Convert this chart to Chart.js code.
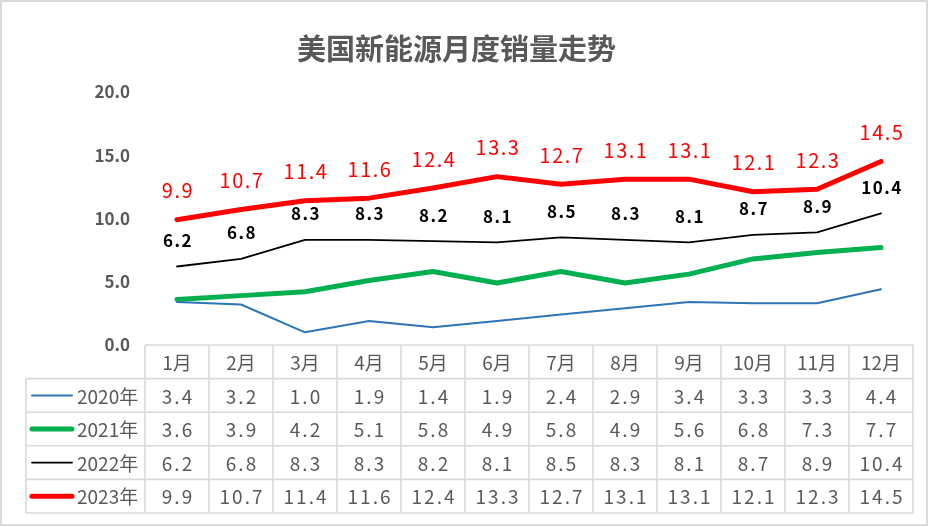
<!DOCTYPE html>
<html lang="zh-CN">
<head>
<meta charset="utf-8">
<title>美国新能源月度销量走势</title>
<script src="https://cdn.jsdelivr.net/npm/chart.js@4.4.1/dist/chart.umd.min.js"></script>
<style>
  html, body { margin: 0; padding: 0; background: #fff; }
  #chart { display: block; }
</style>
</head>
<body>
<canvas id="chart" width="930" height="527"></canvas>
<script>
// 数据
const months = ["1月", "2月", "3月", "4月", "5月", "6月", "7月", "8月", "9月", "10月", "11月", "12月"];
const seriesNames = ["2020年", "2021年", "2022年", "2023年"];
const sales2020 = [3.4, 3.2, 1.0, 1.9, 1.4, 1.9, 2.4, 2.9, 3.4, 3.3, 3.3, 4.4];
const sales2021 = [3.6, 3.9, 4.2, 5.1, 5.8, 4.9, 5.8, 4.9, 5.6, 6.8, 7.3, 7.7];
const sales2022 = [6.2, 6.8, 8.3, 8.3, 8.2, 8.1, 8.5, 8.3, 8.1, 8.7, 8.9, 10.4];
const sales2023 = [9.9, 10.7, 11.4, 11.6, 12.4, 13.3, 12.7, 13.1, 13.1, 12.1, 12.3, 14.5];
const yMin = 0;
const yMax = 20;
const yStep = 5;

const FONT = "'Noto Sans CJK SC', 'Noto Sans', sans-serif";
const GREY = "#595959";
const GRID = "#d9d9d9";

// 背景和外框
const frame = {
    id: "frame",
    beforeDraw(chart) {
        const ctx = chart.ctx;
        ctx.save();
        ctx.fillStyle = "#fff";
        ctx.fillRect(0, 0, chart.width, chart.height);
        ctx.strokeStyle = GRID;
        ctx.lineWidth = 2;
        ctx.strokeRect(1, 1, chart.width - 4, chart.height - 3);
        ctx.restore();
    }
};

// 折线上的数据标签
const pointLabels = {
    id: "pointLabels",
    afterDatasetsDraw(chart) {
        const ctx = chart.ctx;
        chart.data.datasets.forEach((ds, i) => {
            if (!ds.labelColor) return;
            const meta = chart.getDatasetMeta(i);
            ctx.save();
            ctx.fillStyle = ds.labelColor;
            ctx.font = ds.labelFont;
            ctx.textAlign = "center";
            ctx.textBaseline = "middle";
            ctx.letterSpacing = "1.5px";
            meta.data.forEach((pt, j) => {
                ctx.fillText(ds.data[j].toFixed(1), pt.x + 1, pt.y - ds.labelOffset);
            });
            ctx.restore();
        });
    }
};

// 底部数据表
const dataTable = {
    id: "dataTable",
    afterDraw(chart) {
        const ctx = chart.ctx;
        const area = chart.chartArea;
        const x = chart.scales.x;
        const colW = (area.right - area.left) / months.length;
        const rowH = 33.6;
        const top = area.bottom;
        const legendLeft = 26;
        const bottom = top + rowH * (seriesNames.length + 1);

        ctx.save();
        ctx.strokeStyle = GRID;
        ctx.lineWidth = 1.6;

        // 横线
        ctx.beginPath();
        ctx.moveTo(area.left, top);
        ctx.lineTo(area.right, top);
        for (let r = 1; r <= seriesNames.length + 1; r++) {
            const y = top + rowH * r;
            ctx.moveTo(legendLeft, y);
            ctx.lineTo(area.right, y);
        }
        // 竖线
        for (let c = 0; c <= months.length; c++) {
            const cx = area.left + colW * c;
            ctx.moveTo(cx, top);
            ctx.lineTo(cx, bottom);
        }
        ctx.moveTo(legendLeft, top + rowH);
        ctx.lineTo(legendLeft, bottom);
        ctx.stroke();

        ctx.fillStyle = GREY;
        ctx.textBaseline = "middle";
        ctx.textAlign = "center";
        ctx.font = "19px " + FONT;
        months.forEach((m, j) => {
            ctx.fillText(m, x.getPixelForValue(j), top + rowH / 2 + 1);
        });

        chart.data.datasets.forEach((ds, i) => {
            const cy = top + rowH * (i + 1.5) + 1;
            // 图例线
            ctx.save();
            ctx.strokeStyle = ds.borderColor;
            ctx.lineWidth = ds.borderWidth;
            ctx.lineCap = "round";
            ctx.beginPath();
            ctx.moveTo(32, cy - 1);
            ctx.lineTo(72, cy - 1);
            ctx.stroke();
            ctx.restore();

            ctx.textAlign = "left";
            ctx.font = "19px " + FONT;
            ctx.fillText(ds.label, 77, cy);

            ctx.textAlign = "center";
            ctx.letterSpacing = "2px";
            ds.data.forEach((v, j) => {
                ctx.fillText(v.toFixed(1), x.getPixelForValue(j) + 1, cy);
            });
            ctx.letterSpacing = "0px";
        });
        ctx.restore();
    }
};

new Chart(document.getElementById("chart"), {
    type: "line",
    data: {
        labels: months,
        datasets: [
            {
                label: seriesNames[0],
                data: sales2020,
                borderColor: "#2e75b6",
                borderWidth: 2
            },
            {
                label: seriesNames[1],
                data: sales2021,
                borderColor: "#00b050",
                borderWidth: 5
            },
            {
                label: seriesNames[2],
                data: sales2022,
                borderColor: "#000000",
                borderWidth: 1.8,
                labelColor: "#000000",
                labelFont: "bold 17px " + FONT,
                labelOffset: 26
            },
            {
                label: seriesNames[3],
                data: sales2023,
                borderColor: "#ff0000",
                borderWidth: 5,
                labelColor: "#ff0000",
                labelFont: "20px " + FONT,
                labelOffset: 29
            }
        ]
    },
    options: {
        responsive: false,
        animation: false,
        devicePixelRatio: 1,
        layout: { padding: { top: 12, right: 17, bottom: 182, left: 0 } },
        elements: {
            point: { radius: 0, hoverRadius: 0 },
            line: { tension: 0, borderJoinStyle: "round", borderCapStyle: "round" }
        },
        plugins: {
            legend: { display: false },
            tooltip: { enabled: false },
            title: {
                display: true,
                text: "美国新能源月度销量走势",
                color: GREY,
                font: { family: FONT, size: 29, weight: "bold" },
                padding: { top: 20, bottom: 25 }
            }
        },
        scales: {
            x: {
                display: false,
                offset: true
            },
            y: {
                min: yMin,
                max: yMax,
                grid: { display: false, drawTicks: false },
                border: { display: false },
                afterFit(scale) { scale.width = 145; },
                ticks: {
                    stepSize: yStep,
                    padding: 15,
                    color: GREY,
                    font: { family: FONT, size: 17, weight: "bold" },
                    callback: (v) => v.toFixed(1)
                }
            }
        }
    },
    plugins: [frame, pointLabels, dataTable]
});
</script>
</body>
</html>
